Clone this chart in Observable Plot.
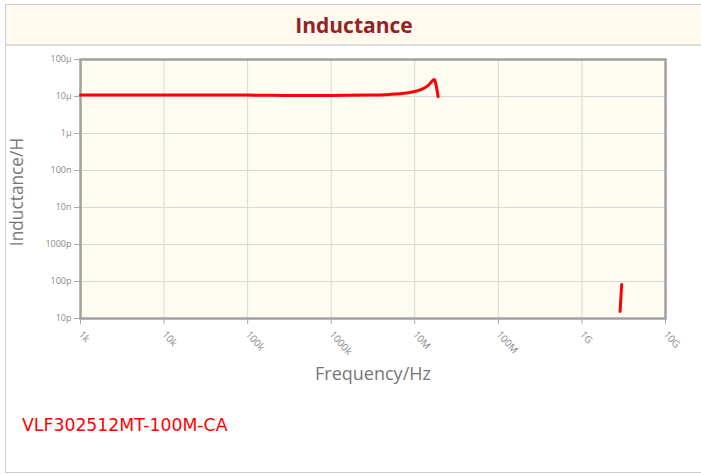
<!DOCTYPE html>
<html>
<head>
<meta charset="utf-8">
<script src="https://cdn.jsdelivr.net/npm/d3@7"></script>
<script src="https://cdn.jsdelivr.net/npm/@observablehq/plot@0.6"></script>
<style>
  html, body { margin: 0; padding: 0; background: #fff; width: 701px; height: 474px; overflow: hidden; }
  #box { position: absolute; left: 5px; top: 4px; width: 710px; height: 469px; border: 1px solid #ccc; box-sizing: border-box; }
  #title { position: absolute; left: 0; top: 0; right: 0; height: 41px; background: #fffaed; border-bottom: 2px solid #ddd; box-sizing: border-box;
    font: bold 21px "Open Sans", sans-serif; color: #952323; text-align: center; line-height: 40px; padding-right: 12px; }
  #chart { position: absolute; left: 0; top: 46px; }
  #caption { position: absolute; left: 22px; top: 415px; font: 17.3px "DejaVu Sans", sans-serif; color: #ff0000; }
</style>
</head>
<body>
<div id="box"><div id="title">Inductance</div></div>
<div id="chart"></div>
<div id="caption">VLF302512MT-100M-CA</div>
<script>
// Frequency ticks and labels
const xTicks = [1e3, 1e4, 1e5, 1e6, 1e7, 1e8, 1e9, 1e10];
const xTickLabels = ["1k", "10k", "100k", "1000k", "10M", "100M", "1G", "10G"];
// Inductance ticks and labels
const yTicks = [1e-11, 1e-10, 1e-9, 1e-8, 1e-7, 1e-6, 1e-5, 1e-4];
const yTickLabels = ["10p", "100p", "1000p", "10n", "100n", "1µ", "10µ", "100µ"];

// Series 1: main inductance curve
const freq1 = [1e3, 1e4, 1e5, 3e5, 1e6, 3e6, 5e6, 8e6, 1e7, 1.3e7, 1.5e7, 1.65e7, 1.72e7, 1.8e7, 1.9e7];
const ind1  = [10.9e-6, 10.9e-6, 10.9e-6, 10.7e-6, 10.7e-6, 10.9e-6, 11.4e-6, 12.5e-6, 13.6e-6, 17e-6, 21.5e-6, 27.5e-6, 29e-6, 20e-6, 10e-6];
// Series 2: high-frequency segment
const freq2 = [2.86e9, 2.99e9];
const ind2  = [1.55e-11, 8.3e-11];

const data = [
  ...freq1.map((f, i) => ({f, L: ind1[i], seg: "a"})),
  ...freq2.map((f, i) => ({f, L: ind2[i], seg: "b"}))
];

const xLab = new Map(xTicks.map((t, i) => [t, xTickLabels[i]]));
const yLab = new Map(yTicks.map((t, i) => [t, yTickLabels[i]]));

const chart = Plot.plot({
  width: 701,
  height: 350,
  marginLeft: 80,
  marginRight: 36,
  marginTop: 13,
  marginBottom: 78,
  style: {fontFamily: "'Open Sans', sans-serif", background: "transparent", overflow: "visible"},
  x: {type: "log", domain: [1e3, 1e10]},
  y: {type: "log", domain: [1e-11, 1e-4]},
  marks: [
    Plot.frame({fill: "#fffcf2", stroke: null}),
    Plot.gridX(xTicks, {stroke: "#d8d8d8", strokeOpacity: 1, strokeWidth: 1}),
    Plot.gridY(yTicks, {stroke: "#d8d8d8", strokeOpacity: 1, strokeWidth: 1}),
    Plot.frame({stroke: "#a0a0a0", strokeWidth: 2.5, fill: null}),
    Plot.axisX(xTicks, {tickFormat: d => xLab.get(d), tickRotate: 48, tickSize: 6, tickPadding: 8, stroke: "#aaa", fill: "#888", fontSize: 10, label: null}),
    Plot.axisY(yTicks, {tickFormat: d => yLab.get(d), tickSize: 6, tickPadding: 3, stroke: "#aaa", fill: "#888", fontSize: 9, label: null}),
    Plot.text(["Inductance/H"], {frameAnchor: "left", textAnchor: "middle", rotate: -90, dx: -63, dy: 3, fontSize: 17.3, fill: "#777", fontFamily: "'Open Sans', sans-serif"}),
    Plot.text(["Frequency/Hz"], {frameAnchor: "bottom", dy: 61, fontSize: 18, fill: "#777", fontFamily: "'Open Sans', sans-serif"}),
    Plot.line(data, {x: "f", y: "L", z: "seg", stroke: "#ff0000", strokeWidth: 3, curve: "monotone-x"})
  ]
});
document.getElementById("chart").appendChild(chart);
</script>
</body>
</html>
